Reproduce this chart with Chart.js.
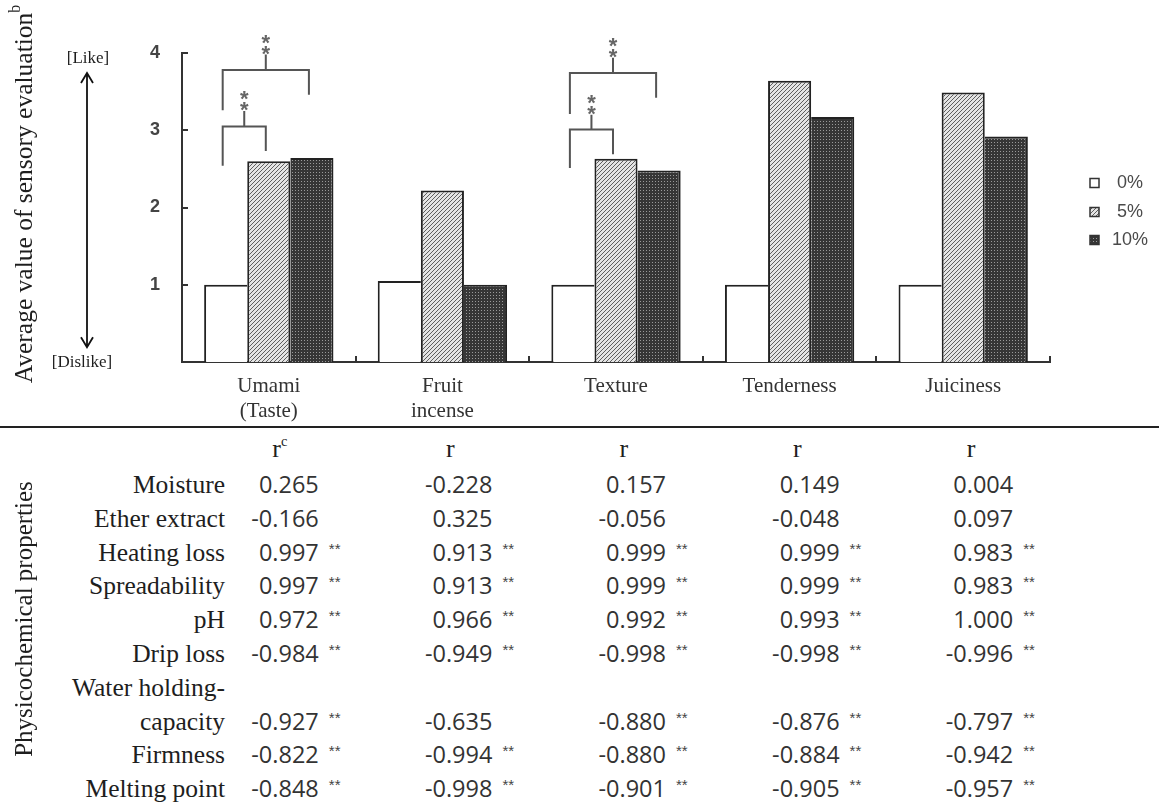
<!DOCTYPE html>
<html>
<head>
<meta charset="utf-8">
<script src="https://cdn.jsdelivr.net/npm/chart.js@4.4.1/dist/chart.umd.min.js"></script>
<style>
html,body{margin:0;padding:0;background:#fff;}
#page{position:relative;width:1159px;height:804px;overflow:hidden;background:#fff;}
#c{position:absolute;left:0;top:0;}
.t{position:absolute;white-space:nowrap;line-height:1;}
.serif{font-family:"Liberation Serif","Times New Roman",serif;color:#1e1e1e;}
.num{font-family:"Open Sans",sans-serif;color:#333;font-size:23.5px;}
.ast{font-family:"Liberation Sans",Arial,sans-serif;color:#444;font-size:15px;}
#sep{position:absolute;left:0;top:426px;width:1159px;height:2px;background:#222;}
</style>
</head>
<body>
<div id="page">
  <canvas id="c" width="1159" height="430"></canvas>
  <div id="sep"></div>
  <div id="overlay"></div>
</div>
<script>
// ---------------- data ----------------
const categories = [["Umami","(Taste)"], ["Fruit","incense"], "Texture", "Tenderness", "Juiciness"];
const seriesNames = ["0%", "5%", "10%"];
const values0  = [1.00, 1.05, 1.00, 1.00, 1.00];
const values5  = [2.60, 2.22, 2.63, 3.64, 3.49];
const values10 = [2.64, 1.00, 2.48, 3.17, 2.92];
const yTicks = [1, 2, 3, 4];

// significance brackets: category, series pair, bracket level, leg ends, stem top (data units)
const bracketCategory = [0, 0, 2, 2];
const bracketFrom     = [0, 0, 0, 0];
const bracketTo       = [1, 2, 1, 2];
const bracketLevel    = [3.05, 3.78, 3.01, 3.74];
const bracketFromEnd  = [2.54, 3.26, 2.51, 3.21];
const bracketToEnd    = [2.73, 3.46, 2.69, 3.42];
const bracketStemTop  = [3.25, 3.98, 3.20, 3.94];

// arrow of the preference scale (data units)
const arrowTopValue = 3.74;
const arrowBottomValue = 0.19;

// correlation table
const propertyLabels = ["Moisture", "Ether extract", "Heating loss", "Spreadability", "pH", "Drip loss", ["Water holding-", "capacity"], "Firmness", "Melting point"];
const rUmami      = [0.265, -0.166, 0.997, 0.997, 0.972, -0.984, -0.927, -0.822, -0.848];
const rFruit      = [-0.228, 0.325, 0.913, 0.913, 0.966, -0.949, -0.635, -0.994, -0.998];
const rTexture    = [0.157, -0.056, 0.999, 0.999, 0.992, -0.998, -0.880, -0.880, -0.901];
const rTenderness = [0.149, -0.048, 0.999, 0.999, 0.993, -0.998, -0.876, -0.884, -0.905];
const rJuiciness  = [0.004, 0.097, 0.983, 0.983, 1.000, -0.996, -0.797, -0.942, -0.957];
const sigUmami      = [0, 0, 1, 1, 1, 1, 1, 1, 1];
const sigFruit      = [0, 0, 1, 1, 1, 1, 0, 1, 1];
const sigTexture    = [0, 0, 1, 1, 1, 1, 1, 1, 1];
const sigTenderness = [0, 0, 1, 1, 1, 1, 1, 1, 1];
const sigJuiciness  = [0, 0, 1, 1, 1, 1, 1, 1, 1];
const columnHeaders = ["r<sup style=\"font-size:55%;position:relative;top:-2px\">c</sup>", "r", "r", "r", "r"];

// ---------------- patterns ----------------
function hatchPattern(ctx) {
  const s = 4, c = document.createElement('canvas');
  c.width = s; c.height = s;
  const g = c.getContext('2d');
  g.fillStyle = '#e4e4e4'; g.fillRect(0, 0, s, s);
  g.strokeStyle = '#5e5e5e'; g.lineWidth = 1;
  g.beginPath();
  g.moveTo(0, s); g.lineTo(s, 0);
  g.moveTo(-1, 1); g.lineTo(1, -1);
  g.moveTo(s - 1, s + 1); g.lineTo(s + 1, s - 1);
  g.stroke();
  return ctx.createPattern(c, 'repeat');
}
function dotPattern(ctx) {
  const s = 3, c = document.createElement('canvas');
  c.width = s; c.height = s;
  const g = c.getContext('2d');
  g.fillStyle = '#363636'; g.fillRect(0, 0, s, s);
  g.fillStyle = '#9a9a9a'; g.fillRect(1, 1, 1, 1);
  return ctx.createPattern(c, 'repeat');
}

const canvas = document.getElementById('c');
const ctx = canvas.getContext('2d');
const hatch = hatchPattern(ctx);
const dots = dotPattern(ctx);
const fills = ['#ffffff', hatch, dots];

// ---------------- annotation plugin ----------------
const annot = {
  id: 'annot',
  afterDatasetsDraw(chart) {
    const { ctx, chartArea: a, scales: { x, y } } = chart;
    ctx.save();
    // inward y ticks
    ctx.strokeStyle = '#333'; ctx.lineWidth = 2;
    yTicks.forEach(v => {
      const py = Math.round(y.getPixelForValue(v));
      ctx.beginPath(); ctx.moveTo(a.left, py); ctx.lineTo(a.left + 6, py); ctx.stroke();
    });
    // inward x ticks at category boundaries
    for (let i = 0; i < categories.length; i++) {
      const bx = i < categories.length - 1 ? Math.round((x.getPixelForValue(i) + x.getPixelForValue(i + 1)) / 2) : a.right;
      ctx.beginPath(); ctx.moveTo(bx, a.bottom); ctx.lineTo(bx, a.bottom - 6); ctx.stroke();
    }
    // brackets
    ctx.strokeStyle = '#555'; ctx.lineWidth = 2;
    ctx.fillStyle = '#666';
    ctx.font = 'bold 22px "Liberation Sans", Arial, sans-serif';
    ctx.textAlign = 'center'; ctx.textBaseline = 'alphabetic';
    for (let k = 0; k < bracketCategory.length; k++) {
      const xl = chart.getDatasetMeta(bracketFrom[k]).data[bracketCategory[k]].x - 3;
      const xr = chart.getDatasetMeta(bracketTo[k]).data[bracketCategory[k]].x - 3;
      const yl = y.getPixelForValue(bracketLevel[k]);
      const xm = (xl + xr) / 2;
      const ys = y.getPixelForValue(bracketStemTop[k]);
      ctx.beginPath();
      ctx.moveTo(xl, y.getPixelForValue(bracketFromEnd[k]));
      ctx.lineTo(xl, yl); ctx.lineTo(xr, yl);
      ctx.lineTo(xr, y.getPixelForValue(bracketToEnd[k]));
      ctx.moveTo(xm, yl); ctx.lineTo(xm, ys);
      ctx.stroke();
      ctx.fillText('*', xm, ys - 6 + 12.5);
      ctx.fillText('*', xm, ys - 17 + 12.5);
    }
    // preference arrow
    const ax = 87;
    const at = y.getPixelForValue(arrowTopValue), ab = y.getPixelForValue(arrowBottomValue);
    ctx.strokeStyle = '#111'; ctx.lineWidth = 1.8;
    ctx.beginPath();
    ctx.moveTo(ax, at); ctx.lineTo(ax, ab);
    ctx.moveTo(ax - 6, at + 10); ctx.lineTo(ax, at); ctx.lineTo(ax + 6, at + 10);
    ctx.moveTo(ax - 6, ab - 10); ctx.lineTo(ax, ab); ctx.lineTo(ax + 6, ab - 10);
    ctx.stroke();
    ctx.fillStyle = '#1e1e1e';
    ctx.font = '17px "Liberation Serif", "Times New Roman", serif';
    ctx.textBaseline = 'middle';
    ctx.fillText('[Like]', ax + 1, at - 15);
    ctx.fillText('[Dislike]', ax - 5, ab + 15);
    // legend
    ctx.font = '18px "Liberation Sans", Arial, sans-serif';
    ctx.textAlign = 'left'; ctx.textBaseline = 'middle';
    const ly = [183, 212, 240];
    seriesNames.forEach((n, i) => {
      const bx = a.right + 40, by = ly[i] - 4.5;
      ctx.fillStyle = fills[i];
      ctx.fillRect(bx, by, 9, 9);
      ctx.strokeStyle = '#333'; ctx.lineWidth = 1.5;
      ctx.strokeRect(bx, by, 9, 9);
      ctx.fillStyle = '#4a4a4a';
      ctx.fillText(n.padStart(3, ' '), a.right + 62, ly[i]);
    });
    ctx.restore();
  }
};

// ---------------- chart ----------------
const chart = new Chart(ctx, {
  type: 'bar',
  data: {
    labels: categories,
    datasets: [
      { label: seriesNames[0], data: values0, backgroundColor: fills[0], borderColor: '#222', borderWidth: { top: 2, left: 2, right: 0, bottom: 0 } },
      { label: seriesNames[1], data: values5, backgroundColor: fills[1], borderColor: '#222', borderWidth: { top: 2, left: 2, right: 2, bottom: 0 } },
      { label: seriesNames[2], data: values10, backgroundColor: fills[2], borderColor: '#222', borderWidth: { top: 2, left: 0, right: 2, bottom: 0 } }
    ]
  },
  options: {
    responsive: false,
    animation: false,
    devicePixelRatio: 1,
    layout: { padding: { top: 53, right: 109, left: 0, bottom: 0 } },
    plugins: { legend: { display: false }, tooltip: { enabled: false } },
    datasets: { bar: { categoryPercentage: 0.745, barPercentage: 1.0 } },
    scales: {
      x: {
        grid: { display: false, drawTicks: false },
        border: { display: true, color: '#333', width: 2 },
        ticks: { padding: 12, color: '#333', maxRotation: 0, autoSkip: false,
                 font: { family: '"Liberation Serif", "Times New Roman", serif', size: 21, lineHeight: 1.19 } },
        afterFit(s) { s.height = 68; }
      },
      y: {
        min: 0, max: 4,
        grid: { display: false, drawTicks: false },
        border: { display: true, color: '#333', width: 2 },
        ticks: { stepSize: 1, padding: 22, color: '#444',
                 font: { family: '"Liberation Sans", Arial, sans-serif', size: 18, weight: 'bold' },
                 callback: v => yTicks.includes(v) ? String(v) : '' },
        afterFit(s) { s.width = 182; }
      }
    }
  },
  plugins: [annot]
});

// ---------------- text overlay (titles + table) ----------------
const overlay = document.getElementById('overlay');
function addText(html, x, y, cls, align, extra) {
  const d = document.createElement('div');
  d.className = 't ' + cls;
  d.innerHTML = html;
  d.style.left = x + 'px';
  d.style.top = y + 'px';
  const tx = align === 'right' ? '-100%' : align === 'center' ? '-50%' : '0';
  d.style.transform = 'translate(' + tx + ',-50%)' + (extra || '');
  overlay.appendChild(d);
  return d;
}
// rotated titles
const yt = addText('Average value of sensory evaluation<sup style="font-size:62%;position:relative;top:-3px">b</sup>', 23, 194, 'serif', 'center', ' rotate(-90deg)');
yt.style.fontSize = '25.5px';
const pt = addText('Physicochemical properties', 23, 619, 'serif', 'center', ' rotate(-90deg)');
pt.style.fontSize = '25px';

// table
const tableCols = [rUmami, rFruit, rTexture, rTenderness, rJuiciness];
const tableSig = [sigUmami, sigFruit, sigTexture, sigTenderness, sigJuiciness];
const headerY = 449, firstLineY = 485, lineStep = 33.8, labelRight = 225;
const xs = chart.scales.x;
tableCols.forEach((col, c) => {
  const cx = xs.getPixelForValue(c);
  const h = addText(columnHeaders[c], cx + 3.5, headerY, 'serif', 'left');
  h.style.fontSize = '26px';
});
let line = 0;
propertyLabels.forEach((lab, i) => {
  const lines = Array.isArray(lab) ? lab : [lab];
  lines.forEach(l => {
    const d = addText(l, labelRight, firstLineY + line * lineStep, 'serif', 'right');
    d.style.fontSize = '25.5px';
    line++;
  });
  const yRow = firstLineY + (line - 1) * lineStep;
  tableCols.forEach((col, c) => {
    const end = xs.getPixelForValue(c) + 50;
    addText(col[i].toFixed(3), end, yRow, 'num', 'right');
    if (tableSig[c][i]) addText('**', end + 10, yRow - 5, 'ast', 'left');
  });
});
</script>
</body>
</html>
